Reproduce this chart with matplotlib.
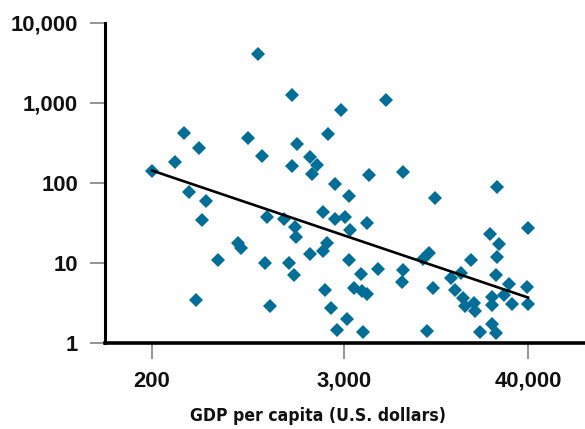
import numpy as np
import matplotlib
matplotlib.use("Agg")
import matplotlib.pyplot as plt
from matplotlib.ticker import FixedLocator, NullLocator

# GDP per capita (US$) and value for each country
gdp = [895, 1440, 2860, 315, 775, 2380, 385, 1550, 935, 1850, 275, 1445, 2050, 1915,
       199, 2650, 3210, 338, 430, 405, 1005, 1280, 1505, 1520, 2225, 2650, 3020, 3235,
       675, 705, 2345, 2215, 1860, 505, 980, 1375, 1485, 3225, 370, 1055, 2300, 2490,
       3135, 2710, 26000, 10800, 4140, 39800, 23300, 26500, 25700, 9870, 9070, 17900,
       4830, 6870, 3790, 6780, 15600, 13600, 25400, 30600, 39300, 3460, 3840, 4160,
       10500, 14300, 28600, 24200, 15900, 18700, 16500, 24200, 32000, 40200, 18900,
       3900, 9680, 20300, 24200, 25500, 5410, 4275, 6870]
values = [4100, 1250, 820, 420, 360, 405, 275, 310, 220, 210, 185, 165, 167, 131,
          142, 98, 68, 78, 60, 34, 38, 35, 28.5, 21, 43, 35, 37.5, 26,
          18, 15.3, 18, 14, 13, 11, 10, 10, 7.1, 10.8, 3.4, 2.9, 4.6, 2.75,
          2.0, 1.46, 89, 64, 31.5, 27.7, 22.8, 17.3, 11.9, 13.3, 11.2, 11,
          8.4, 8.1, 7.2, 5.75, 7.5, 6.5, 7.0, 5.5, 4.95, 4.9, 4.45, 4.1,
          4.9, 4.6, 3.95, 3.8, 3.6, 3.2, 2.9, 2.95, 3.05, 3.05, 2.5,
          1.37, 1.41, 1.38, 1.72, 1.32, 1100, 125, 136]

# fitted trend line end points
trend_gdp = [200, 40000]
trend_val = [143, 3.7]

xticks = [200, 3000, 40000]
xtick_labels = ["200", "3,000", "40,000"]
yticks = [1, 10, 100, 1000, 10000]
ytick_labels = ["1", "10", "100", "1,000", "10,000"]

plt.rcParams['font.family'] = ['Liberation Sans', 'DejaVu Sans']

fig = plt.figure(figsize=(5.85, 4.29), dpi=100)
ax = fig.add_axes([0.1795, 0.2005, 0.8205, 0.7459])

ax.plot(gdp, values, linestyle='none', marker='D', markersize=6.8,
        markerfacecolor='#006e96', markeredgewidth=0, zorder=2, clip_on=False)
ax.plot(trend_gdp, trend_val, color='black', linewidth=1.9, zorder=3)

ax.set_xscale('log')
ax.set_yscale('log')
ax.set_xlim(103, 89300)
ax.set_ylim(1, 10000)

ax.xaxis.set_major_locator(FixedLocator(xticks))
ax.xaxis.set_minor_locator(NullLocator())
ax.set_xticklabels(xtick_labels)
ax.yaxis.set_major_locator(FixedLocator(yticks))
ax.yaxis.set_minor_locator(NullLocator())
ax.set_yticklabels(ytick_labels)

for lab in ax.get_xticklabels() + ax.get_yticklabels():
    lab.set_fontweight('bold')
    lab.set_fontsize(15.8)
    lab.set_color('#111111')

ax.tick_params(axis='y', direction='out', length=10.5, width=1.2,
               color='#808080', pad=9)
ax.tick_params(axis='x', direction='out', length=11.5, width=1.2,
               color='#808080', pad=8.5)

ax.spines['top'].set_visible(False)
ax.spines['right'].set_visible(False)
ax.spines['left'].set_linewidth(2.2)
ax.spines['bottom'].set_linewidth(2.6)
ax.spines['left'].set_zorder(4)
ax.spines['bottom'].set_zorder(4)

fig.text(318 / 585, 1 - 416 / 429, "GDP per capita (U.S. dollars)",
         ha='center', va='center', fontsize=12.6, fontweight='bold',
         family=['DejaVu Sans'], fontstretch='condensed',
         color='#111111')

fig.savefig('out.png', dpi=100)
